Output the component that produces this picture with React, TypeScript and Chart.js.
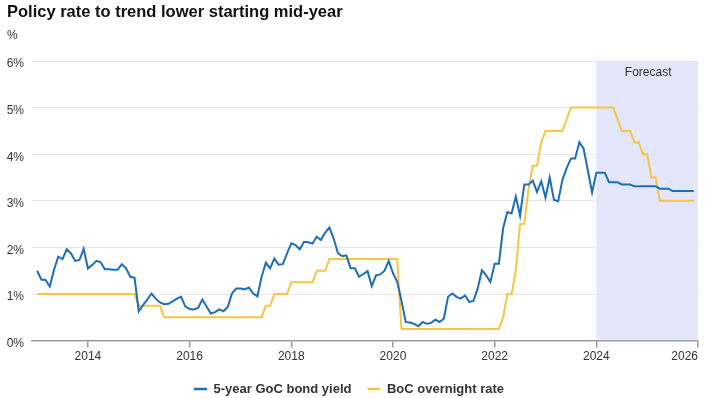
import React, { useEffect, useRef } from 'react';
import { Chart, registerables } from 'chart.js';

Chart.register(...registerables);

// ---------- data ----------
const TITLE = 'Policy rate to trend lower starting mid-year';
const UNIT = '%';
const FORECAST_LABEL = 'Forecast';
const START_YEAR = 2013; // monthly series start (Jan 2013)
const FORECAST_START = 2024;
const X_MIN = 2012.9;
const X_MAX = 2026;
const Y_MAX = 6;
const xTickYears = [2014, 2016, 2018, 2020, 2022, 2024, 2026];

const seriesNames = ['5-year GoC bond yield', 'BoC overnight rate'];

// 5-year GoC bond yield, monthly
const bond2013 = [1.5, 1.31, 1.3, 1.16, 1.52, 1.8, 1.75, 1.96, 1.87, 1.71, 1.73, 1.97];
const bond2014 = [1.55, 1.62, 1.71, 1.68, 1.53, 1.53, 1.52, 1.52, 1.64, 1.55, 1.37, 1.35];
const bond2015 = [0.63, 0.76, 0.88, 1.01, 0.9, 0.82, 0.78, 0.79, 0.84, 0.9, 0.94, 0.73];
const bond2016 = [0.68, 0.67, 0.7, 0.88, 0.73, 0.58, 0.61, 0.67, 0.63, 0.72, 1.01, 1.12];
const bond2017 = [1.12, 1.1, 1.14, 1.01, 0.95, 1.37, 1.67, 1.55, 1.76, 1.63, 1.64, 1.87];
const bond2018 = [2.09, 2.05, 1.96, 2.12, 2.11, 2.08, 2.23, 2.16, 2.32, 2.43, 2.19, 1.88];
const bond2019 = [1.81, 1.83, 1.55, 1.55, 1.37, 1.43, 1.49, 1.17, 1.4, 1.42, 1.5, 1.71];
const bond2020 = [1.45, 1.26, 0.86, 0.4, 0.39, 0.36, 0.31, 0.4, 0.36, 0.38, 0.45, 0.4];
const bond2021 = [0.47, 0.94, 1.01, 0.94, 0.9, 0.97, 0.83, 0.85, 1.12, 1.51, 1.4, 1.26];
const bond2022 = [1.65, 1.65, 2.41, 2.76, 2.73, 3.09, 2.68, 3.35, 3.35, 3.43, 3.19, 3.42];
const bond2023 = [3.07, 3.5, 3.02, 2.99, 3.45, 3.7, 3.91, 3.91, 4.26, 4.12, 3.65, 3.18];
const bond2024 = [3.6, 3.6, 3.6, 3.4, 3.4, 3.4, 3.35, 3.35, 3.35, 3.31, 3.31, 3.31];
const bond2025 = [3.31, 3.31, 3.31, 3.26, 3.26, 3.26, 3.21, 3.21, 3.21, 3.21, 3.21, 3.21];

// BoC overnight rate, monthly
const rate2013 = [1, 1, 1, 1, 1, 1, 1, 1, 1, 1, 1, 1];
const rate2014 = [1, 1, 1, 1, 1, 1, 1, 1, 1, 1, 1, 1];
const rate2015 = [0.75, 0.75, 0.75, 0.75, 0.75, 0.75, 0.5, 0.5, 0.5, 0.5, 0.5, 0.5];
const rate2016 = [0.5, 0.5, 0.5, 0.5, 0.5, 0.5, 0.5, 0.5, 0.5, 0.5, 0.5, 0.5];
const rate2017 = [0.5, 0.5, 0.5, 0.5, 0.5, 0.5, 0.75, 0.75, 1, 1, 1, 1];
const rate2018 = [1.25, 1.25, 1.25, 1.25, 1.25, 1.25, 1.5, 1.5, 1.5, 1.75, 1.75, 1.75];
const rate2019 = [1.75, 1.75, 1.75, 1.75, 1.75, 1.75, 1.75, 1.75, 1.75, 1.75, 1.75, 1.75];
const rate2020 = [1.75, 1.75, 0.25, 0.25, 0.25, 0.25, 0.25, 0.25, 0.25, 0.25, 0.25, 0.25];
const rate2021 = [0.25, 0.25, 0.25, 0.25, 0.25, 0.25, 0.25, 0.25, 0.25, 0.25, 0.25, 0.25];
const rate2022 = [0.25, 0.25, 0.5, 1, 1, 1.5, 2.5, 2.5, 3.25, 3.75, 3.75, 4.25];
const rate2023 = [4.5, 4.5, 4.5, 4.5, 4.5, 4.75, 5, 5, 5, 5, 5, 5];
const rate2024 = [5, 5, 5, 5, 5, 4.75, 4.5, 4.5, 4.5, 4.25, 4.25, 4];
const rate2025 = [4, 3.5, 3.5, 3, 3, 3, 3, 3, 3, 3, 3, 3];

const bondYield = [
  ...bond2013, ...bond2014, ...bond2015, ...bond2016, ...bond2017, ...bond2018, ...bond2019,
  ...bond2020, ...bond2021, ...bond2022, ...bond2023, ...bond2024, ...bond2025,
];
const overnightRate = [
  ...rate2013, ...rate2014, ...rate2015, ...rate2016, ...rate2017, ...rate2018, ...rate2019,
  ...rate2020, ...rate2021, ...rate2022, ...rate2023, ...rate2024, ...rate2025,
];

// ---------- styles ----------
const FONT = '"Liberation Sans", Arial, Helvetica, sans-serif';
const BLUE = '#1d6db8';
const YELLOW = '#f6c544';
const TEXT = '#333333';

const toPoints = (values: number[]) =>
  values.map((v, i) => ({ x: START_YEAR + i / 12, y: v }));

const forecastPlugin = {
  id: 'forecastBand',
  beforeDatasetsDraw(chart: any) {
    const { ctx, scales } = chart;
    const x1 = scales.x.getPixelForValue(FORECAST_START);
    const x2 = scales.x.getPixelForValue(X_MAX);
    const yTop = scales.y.getPixelForValue(Y_MAX);
    const yBot = scales.y.getPixelForValue(0);
    ctx.save();
    ctx.fillStyle = 'rgba(224,226,251,0.88)';
    ctx.fillRect(x1, yTop, x2 - x1, yBot - yTop - 1);
    ctx.fillStyle = TEXT;
    ctx.font = `12px ${FONT}`;
    ctx.textAlign = 'center';
    ctx.textBaseline = 'middle';
    ctx.fillText(FORECAST_LABEL, (x1 + x2) / 2 + 1, yTop + 12);
    ctx.restore();
  },
};

export default function App() {
  const canvasRef = useRef<HTMLCanvasElement | null>(null);

  useEffect(() => {
    const canvas = canvasRef.current;
    if (!canvas) return;
    const chart = new Chart(canvas, {
      type: 'line',
      data: {
        datasets: [
          {
            label: seriesNames[0],
            data: toPoints(bondYield),
            borderColor: BLUE,
            backgroundColor: BLUE,
            borderWidth: 2,
            pointRadius: 0,
            tension: 0,
          },
          {
            label: seriesNames[1],
            data: toPoints(overnightRate),
            borderColor: YELLOW,
            backgroundColor: YELLOW,
            borderWidth: 2,
            pointRadius: 0,
            tension: 0,
          },
        ],
      },
      options: {
        animation: false,
        responsive: false,
        maintainAspectRatio: false,
        devicePixelRatio: 1,
        layout: { padding: { top: 61, right: 7, bottom: -7.6, left: 0 } },
        plugins: {
          title: { display: false },
          tooltip: { enabled: false },
          legend: {
            display: true,
            position: 'bottom',
            align: 'center',
            labels: {
              boxWidth: 13,
              boxHeight: 2.5,
              padding: 16,
              color: TEXT,
              font: { family: FONT, size: 13, weight: 'bold' },
              generateLabels(chart: any) {
                return chart.data.datasets.map((ds: any, i: number) => ({
                  text: ds.label,
                  fillStyle: ds.borderColor,
                  strokeStyle: ds.borderColor,
                  lineWidth: 0,
                  hidden: false,
                  datasetIndex: i,
                  fontColor: TEXT,
                }));
              },
            },
          },
        },
        scales: {
          x: {
            type: 'linear',
            min: X_MIN,
            max: X_MAX,
            afterBuildTicks(scale: any) {
              scale.ticks = [{ value: X_MIN }, ...xTickYears.map((v) => ({ value: v }))];
            },
            afterFit(scale: any) {
              scale.height = 26;
            },
            ticks: {
              autoSkip: false,
              maxRotation: 0,
              align: 'inner',
              padding: 1.5,
              color: TEXT,
              font: { family: FONT, size: 12 },
              callback: (value: any) => (value === X_MIN ? '' : String(value)),
            },
            grid: {
              drawOnChartArea: false,
              drawTicks: true,
              tickLength: 7,
              color: (ctx: any) => (ctx.index === 0 ? 'rgba(0,0,0,0)' : '#9a9a9a'),
              lineWidth: 1.5,
            },
            border: { display: true, color: '#9a9a9a', width: 1.5 },
          },
          y: {
            type: 'linear',
            min: 0,
            max: Y_MAX,
            afterFit(scale: any) {
              scale.width = 32;
            },
            ticks: {
              stepSize: 1,
              padding: 8,
              labelOffset: 3,
              color: TEXT,
              font: { family: FONT, size: 12 },
              callback: (value: any) => `${value}%`,
            },
            grid: { color: '#e7e7e7', lineWidth: 1, drawTicks: false },
            border: { display: false },
          },
        },
      },
      plugins: [forecastPlugin],
    });
    return () => chart.destroy();
  }, []);

  return (
    <div style={{ position: 'absolute', left: 0, top: 0, width: 705, height: 398, background: '#fff', overflow: 'hidden' }}>
      <canvas ref={canvasRef} width={705} height={398} style={{ position: 'absolute', left: 0, top: 0, width: 705, height: 398 }} />
      <div
        style={{
          position: 'absolute', left: 7, top: 3, fontFamily: FONT, fontWeight: 'bold',
          fontSize: 16.5, lineHeight: '16.5px', color: '#111', whiteSpace: 'nowrap',
        }}
      >
        {TITLE}
      </div>
      <div
        style={{
          position: 'absolute', left: 7, top: 28, fontFamily: FONT, fontSize: 12,
          lineHeight: '14px', color: TEXT,
        }}
      >
        {UNIT}
      </div>
    </div>
  );
}
